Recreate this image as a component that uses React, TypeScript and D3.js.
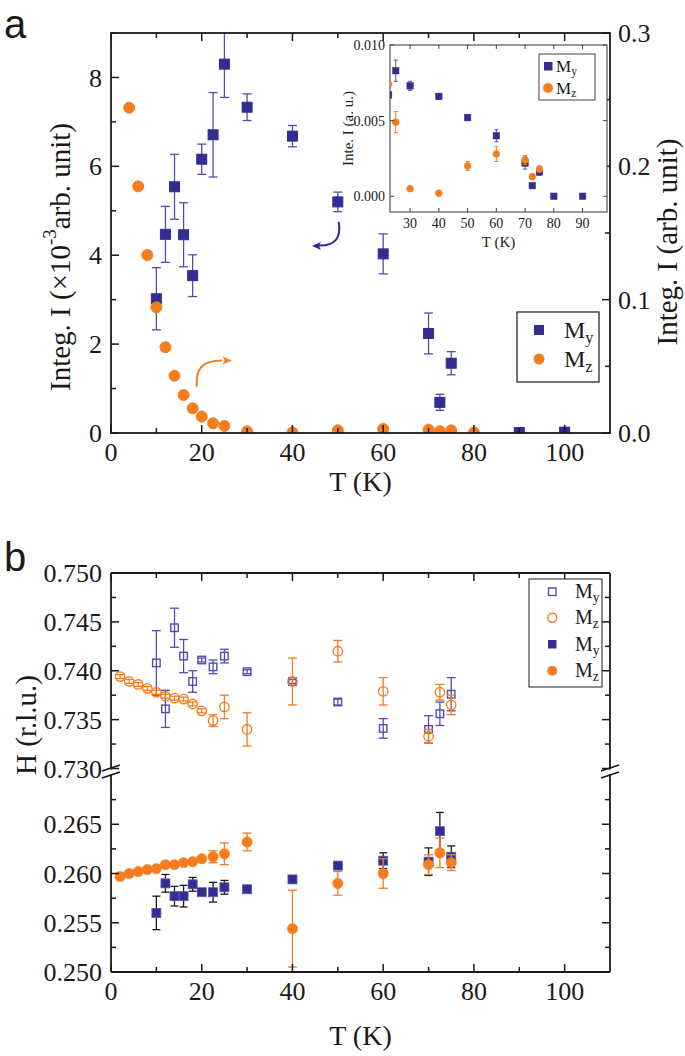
import React from "react";
import * as d3 from "d3";

// ---- panel a, main plot ----
const aMyT = [10, 12, 14, 16, 18, 20, 22.5, 25, 30, 40, 50, 60, 70, 72.5, 75, 90, 100];
const aMyI = [3.02, 4.47, 5.54, 4.46, 3.54, 6.16, 6.71, 8.3, 7.33, 6.68, 5.2, 4.03, 2.24, 0.69, 1.57, 0.01, 0.02];
const aMyErr = [0.7, 0.63, 0.73, 0.72, 0.47, 0.34, 0.95, 0.75, 0.3, 0.24, 0.22, 0.45, 0.46, 0.18, 0.26, 0, 0];

const aMzT = [4, 6, 8, 10, 12, 14, 16, 18, 20, 22.5, 25, 30, 40, 50, 60, 70, 72.5, 75, 80];
const aMzI = [0.244, 0.185, 0.1335, 0.0943, 0.0643, 0.043, 0.0285, 0.0185, 0.0123, 0.0073, 0.0053, 0.0012, 0.0004, 0.002, 0.003, 0.0025, 0.0013, 0.002, 0.0003];

// ---- panel a, inset ----
const inMyT = [22.5, 25, 30, 40, 50, 60, 70, 72.5, 75, 80, 90];
const inMyI = [0.0067, 0.0083, 0.0073, 0.0066, 0.0052, 0.004, 0.0022, 0.0007, 0.0016, 0, 0];
const inMyErr = [0.0009, 0.0007, 0.0003, 0.0002, 0.0002, 0.0004, 0.0004, 0.0001, 0.0002, 0, 0];
const inMzT = [22.5, 25, 30, 40, 50, 60, 70, 72.5, 75];
const inMzI = [0.0074, 0.0049, 0.0005, 0.0002, 0.002, 0.0028, 0.0024, 0.0013, 0.0018];
const inMzErr = [0.0002, 0.0007, 0.0001, 0.0001, 0.0003, 0.0005, 0.0003, 0.0002, 0.0002];

// ---- panel b ----
const bT = [10, 12, 14, 16, 18, 20, 22.5, 25, 30, 40, 50, 60, 70, 72.5, 75];
const bMzT = [2, 4, 6, 8, 10, 12, 14, 16, 18, 20, 22.5, 25, 30, 40, 50, 60, 70, 72.5, 75];

// open symbols (upper branch, ~0.74)
const hMyOpen = [0.7408, 0.7361, 0.7444, 0.7415, 0.7389, 0.7411, 0.7404, 0.7415, 0.7399, 0.7389, 0.7368, 0.7341, 0.734, 0.7356, 0.7376];
const hMyOpenErr = [0.0033, 0.0019, 0.002, 0.0017, 0.0011, 0.0002, 0.0007, 0.0007, 0.0002, 0.0002, 0.0003, 0.001, 0.0014, 0.0012, 0.0017];
const hMzOpen = [0.7394, 0.7389, 0.7386, 0.7382, 0.7378, 0.7374, 0.7372, 0.7371, 0.7366, 0.7359, 0.7349, 0.7363, 0.734, 0.7389, 0.742, 0.7379, 0.7333, 0.7378, 0.7365];
const hMzOpenErr = [0.0002, 0.0002, 0.0002, 0.0002, 0.0002, 0.0002, 0.0002, 0.0002, 0.0002, 0.0002, 0.0006, 0.0012, 0.0017, 0.0024, 0.0011, 0.0014, 0.0007, 0.0008, 0.001];

// filled symbols (lower branch, ~0.26)
const hMyFill = [0.256, 0.259, 0.2577, 0.2577, 0.2589, 0.2581, 0.2581, 0.2586, 0.2584, 0.2594, 0.2608, 0.2613, 0.2612, 0.2643, 0.2617];
const hMyFillErr = [0.0017, 0.0009, 0.001, 0.0011, 0.0007, 0.0003, 0.001, 0.0007, 0.0002, 0.0002, 0.0003, 0.0008, 0.0014, 0.0019, 0.0011];
const hMzFill = [0.2597, 0.26, 0.2602, 0.2604, 0.2605, 0.2609, 0.2609, 0.2611, 0.2612, 0.2615, 0.2617, 0.262, 0.2632, 0.2544, 0.259, 0.26, 0.2609, 0.2621, 0.2611];
const hMzFillErr = [0.0001, 0.0001, 0.0001, 0.0001, 0.0001, 0.0001, 0.0001, 0.0001, 0.0001, 0.0001, 0.0006, 0.0011, 0.0009, 0.0039, 0.0012, 0.0015, 0.001, 0.0015, 0.0008];

const xTicks = [0, 20, 40, 60, 80, 100];
const xMinor = [10, 30, 50, 70, 90];
const yTicksUpper = [0.73, 0.735, 0.74, 0.745, 0.75];
const yTicksLower = [0.25, 0.255, 0.26, 0.265];

const BLUE = "#332d93";
const BLUE_ERR = "#524dae";
const ORANGE = "#f47d1f";
const INK = "#1a1a1a";
const SERIF = "'Liberation Serif', 'Times New Roman', serif";
const SANS = "'Liberation Sans', Arial, sans-serif";

const L = 111, R = 610;
const x = d3.scaleLinear().domain([0, 110]).range([L, R]);

// panel a scales
const aTop = 33, aBot = 433;
const yA = d3.scaleLinear().domain([0, 9]).range([aBot, aTop]);
const yA2 = d3.scaleLinear().domain([0, 0.3]).range([aBot, aTop]);

// inset scales
const inL = 390, inR = 607, inTop = 45, inBot = 212;
const xIn = d3.scaleLinear().domain([23, 98.5]).range([inL, inR]);
const yIn = d3.scaleLinear().domain([-0.00104, 0.01]).range([inBot, inTop]);

// panel b scales (broken axis)
const bTop = 573, bBot = 972;
const yUp = d3.scaleLinear().domain([0.73, 0.75]).range([768.5, bTop]);
const yLo = d3.scaleLinear().domain([0.25, 0.27]).range([bBot, 775]);

const Sub = ({ s }: { s: string }) => (
  <>
    M
    <tspan fontSize="0.68em" dy="0.3em">{s}</tspan>
  </>
);

function ErrBars({ xs, ys, es, sx, sy, color, cap = 8, width = 1.3 }: any) {
  return (
    <g stroke={color} strokeWidth={width} fill="none">
      {xs.map((t: number, i: number) => {
        if (!es[i]) return null;
        const cx = sx(t);
        const y1 = sy(ys[i] - es[i]);
        const y2 = sy(ys[i] + es[i]);
        return (
          <g key={i}>
            <line x1={cx} x2={cx} y1={y1} y2={y2} />
            <line x1={cx - cap / 2} x2={cx + cap / 2} y1={y1} y2={y1} />
            <line x1={cx - cap / 2} x2={cx + cap / 2} y1={y2} y2={y2} />
          </g>
        );
      })}
    </g>
  );
}

function Squares({ xs, ys, sx, sy, size, fill, stroke, sw = 1 }: any) {
  return (
    <g>
      {xs.map((t: number, i: number) => (
        <rect key={i} x={sx(t) - size / 2} y={sy(ys[i]) - size / 2} width={size} height={size}
          fill={fill} stroke={stroke} strokeWidth={sw} />
      ))}
    </g>
  );
}

function Circles({ xs, ys, sx, sy, r, fill, stroke, sw = 1 }: any) {
  return (
    <g>
      {xs.map((t: number, i: number) => (
        <circle key={i} cx={sx(t)} cy={sy(ys[i])} r={r} fill={fill} stroke={stroke} strokeWidth={sw} />
      ))}
    </g>
  );
}

function XAxisTicks({ top, bot, labels }: { top: number; bot: number; labels: boolean }) {
  return (
    <g stroke={INK} strokeWidth={1.5}>
      {xTicks.map((t) => (
        <g key={"M" + t}>
          <line x1={x(t)} x2={x(t)} y1={bot} y2={bot - 8} />
          <line x1={x(t)} x2={x(t)} y1={top} y2={top + 8} />
        </g>
      ))}
      {xMinor.map((t) => (
        <g key={"m" + t}>
          <line x1={x(t)} x2={x(t)} y1={bot} y2={bot - 5} />
          <line x1={x(t)} x2={x(t)} y1={top} y2={top + 5} />
        </g>
      ))}
      {labels &&
        xTicks.map((t) => (
          <text key={"l" + t} x={x(t)} y={bot + 28} textAnchor="middle" stroke="none" fill={INK}
            fontFamily={SERIF} fontSize={26}>{t}</text>
        ))}
    </g>
  );
}

function YTicks({ sy, major, minor, side, fmt, labels = true }: any) {
  const x0 = side === "left" ? L : R;
  const dir = side === "left" ? 1 : -1;
  return (
    <g stroke={INK} strokeWidth={1.5}>
      {major.map((v: number) => (
        <line key={"M" + v} x1={x0} x2={x0 + dir * 8} y1={sy(v)} y2={sy(v)} />
      ))}
      {minor.map((v: number) => (
        <line key={"m" + v} x1={x0} x2={x0 + dir * 5} y1={sy(v)} y2={sy(v)} />
      ))}
      {labels &&
        major.map((v: number) => (
          <text key={"l" + v} x={side === "left" ? L - 9 : R + 8} y={sy(v)} dy="0.35em"
            textAnchor={side === "left" ? "end" : "start"} stroke="none" fill={INK}
            fontFamily={SERIF} fontSize={26}>{fmt(v)}</text>
        ))}
    </g>
  );
}

function PanelA() {
  const arrowBlue = d3.path();
  arrowBlue.moveTo(x(50.2), yA(4.75));
  arrowBlue.bezierCurveTo(x(50.8), yA(4.4), x(49.5), yA(4.2), x(45.5), yA(4.22));
  const arrowOrange = d3.path();
  arrowOrange.moveTo(x(18.9), yA(1.04));
  arrowOrange.bezierCurveTo(x(18.7), yA(1.45), x(20), yA(1.63), x(24.5), yA(1.63));

  return (
    <g>
      <defs>
        <clipPath id="clipA">
          <rect x={L} y={aTop} width={R - L} height={aBot - aTop} />
        </clipPath>
        <clipPath id="clipIn">
          <rect x={inL} y={inTop} width={inR - inL} height={inBot - inTop} />
        </clipPath>
      </defs>

      <g clipPath="url(#clipA)">
        <ErrBars xs={aMyT} ys={aMyI} es={aMyErr} sx={x} sy={yA} color={BLUE_ERR} cap={9} />
        <Squares xs={aMyT} ys={aMyI} sx={x} sy={yA} size={10} fill={BLUE} stroke={BLUE} />
        <Circles xs={aMzT} ys={aMzI} sx={x} sy={yA2} r={5.5} fill={ORANGE} stroke={ORANGE} />
      </g>

      {/* annotation arrows */}
      <path d={arrowBlue.toString()} fill="none" stroke={BLUE} strokeWidth={2} />
      <path d={`M${x(44.3)},${yA(4.21)} l9,-4 l-2,4 l2,4 z`} fill={BLUE} />
      <path d={arrowOrange.toString()} fill="none" stroke={ORANGE} strokeWidth={2} />
      <path d={`M${x(26.6)},${yA(1.63)} l-9,-4 l2,4 l-2,4 z`} fill={ORANGE} />

      {/* frame and ticks */}
      <rect x={L} y={aTop} width={R - L} height={aBot - aTop} fill="none" stroke={INK} strokeWidth={1.8} />
      <XAxisTicks top={aTop} bot={aBot} labels={true} />
      <YTicks sy={yA} major={[0, 2, 4, 6, 8]} minor={[1, 3, 5, 7, 9]} side="left" fmt={(v: number) => String(v)} />
      <YTicks sy={yA2} major={[0, 0.1, 0.2, 0.3]} minor={[0.05, 0.15, 0.25]} side="right" fmt={d3.format(".1f")} />

      {/* legend */}
      <rect x={517} y={312} width={82} height={70} fill="white" stroke={INK} strokeWidth={1.2} />
      <rect x={534} y={325} width={10} height={10} fill={BLUE} />
      <circle cx={539} cy={359} r={5.5} fill={ORANGE} />
      <text x={564} y={338} fontFamily={SERIF} fontSize={24} fill={INK}><Sub s="y" /></text>
      <text x={564} y={367} fontFamily={SERIF} fontSize={24} fill={INK}><Sub s="z" /></text>

      {/* inset */}
      <rect x={inL} y={inTop} width={inR - inL} height={inBot - inTop} fill="white" stroke="#555" strokeWidth={1.2} />
      <g clipPath="url(#clipIn)">
        <ErrBars xs={inMyT} ys={inMyI} es={inMyErr} sx={xIn} sy={yIn} color={BLUE_ERR} cap={4} width={1} />
        <Squares xs={inMyT} ys={inMyI} sx={xIn} sy={yIn} size={6.5} fill={BLUE} stroke={BLUE} sw={0.5} />
        <ErrBars xs={inMzT} ys={inMzI} es={inMzErr} sx={xIn} sy={yIn} color={ORANGE} cap={4} width={1} />
        <Circles xs={inMzT} ys={inMzI} sx={xIn} sy={yIn} r={3.4} fill={ORANGE} stroke={ORANGE} sw={0.5} />
      </g>
      <g stroke="#444" strokeWidth={1}>
        {[30, 40, 50, 60, 70, 80, 90].map((t) => (
          <g key={t}>
            <line x1={xIn(t)} x2={xIn(t)} y1={inBot} y2={inBot - 4} />
            <line x1={xIn(t)} x2={xIn(t)} y1={inTop} y2={inTop + 4} />
          </g>
        ))}
        {[0, 0.005, 0.01].map((v) => (
          <g key={v}>
            <line x1={inL} x2={inL + 4} y1={yIn(v)} y2={yIn(v)} />
            <line x1={inR} x2={inR - 4} y1={yIn(v)} y2={yIn(v)} />
          </g>
        ))}
      </g>
      {[30, 40, 50, 60, 70, 80, 90].map((t) => (
        <text key={t} x={xIn(t)} y={inBot + 16} textAnchor="middle" fontFamily={SERIF} fontSize={14} fill={INK}>{t}</text>
      ))}
      {[0, 0.005, 0.01].map((v) => (
        <text key={v} x={inL - 5} y={yIn(v)} dy="0.35em" textAnchor="end" fontFamily={SERIF} fontSize={14} fill={INK}>
          {d3.format(".3f")(v)}
        </text>
      ))}
      <text x={(inL + inR) / 2} y={247} textAnchor="middle" fontFamily={SERIF} fontSize={15} fill={INK}>T (K)</text>
      <text transform={`translate(353,${(inTop + inBot) / 2}) rotate(-90)`} textAnchor="middle"
        fontFamily={SERIF} fontSize={15} fill={INK}>Inte. I (a. u.)</text>
      <rect x={539} y={54} width={56} height={46} fill="white" stroke="#444" strokeWidth={1} />
      <rect x={544} y={62} width={8.5} height={8.5} fill={BLUE} />
      <circle cx={548} cy={88} r={5} fill={ORANGE} />
      <text x={556} y={72} fontFamily={SERIF} fontSize={17} fill={INK}><Sub s="y" /></text>
      <text x={556} y={94} fontFamily={SERIF} fontSize={17} fill={INK}><Sub s="z" /></text>

      {/* axis titles */}
      <text x={(L + R) / 2} y={491} textAnchor="middle" fontFamily={SERIF} fontSize={28} fill={INK}>T (K)</text>
      <text transform={`translate(70,257) rotate(-90)`} textAnchor="middle" fontFamily={SERIF} fontSize={29} fill={INK}>
        Integ. I (×10<tspan fontSize="0.65em" dy="-0.75em">-3</tspan><tspan dy="0.48em">arb. unit)</tspan>
      </text>
      <text transform={`translate(677,242) rotate(-90)`} textAnchor="middle" fontFamily={SERIF} fontSize={29} fill={INK}>
        Integ. I (arb. unit)
      </text>
      <text x={4} y={38} fontFamily={SANS} fontSize={40} fill={INK}>a</text>
    </g>
  );
}

function PanelB() {
  const upMinor = [0.7325, 0.7375, 0.7425, 0.7475];
  const loMinor = [0.2525, 0.2575, 0.2625, 0.2675];
  const fmt = d3.format(".3f");
  const brk = (x0: number) => (
    <g key={x0}>
      <rect x={x0 - 3} y={769.5} width={6} height={4.5} fill="white" />
      <line x1={x0 - 9} y1={771} x2={x0 + 9} y2={765} stroke={INK} strokeWidth={1.8} />
      <line x1={x0 - 9} y1={778} x2={x0 + 9} y2={772} stroke={INK} strokeWidth={1.8} />
    </g>
  );
  return (
    <g>
      <ErrBars xs={bT} ys={hMyOpen} es={hMyOpenErr} sx={x} sy={yUp} color={BLUE_ERR} cap={9} />
      <Squares xs={bT} ys={hMyOpen} sx={x} sy={yUp} size={7.5} fill="none" stroke={BLUE_ERR} sw={1.4} />
      <ErrBars xs={bMzT} ys={hMzOpen} es={hMzOpenErr} sx={x} sy={yUp} color={ORANGE} cap={9} />
      <Circles xs={bMzT} ys={hMzOpen} sx={x} sy={yUp} r={4.7} fill="none" stroke={ORANGE} sw={1.4} />

      <ErrBars xs={bT} ys={hMyFill} es={hMyFillErr} sx={x} sy={yLo} color={INK} cap={8} />
      <Squares xs={bT} ys={hMyFill} sx={x} sy={yLo} size={9} fill={BLUE} stroke="#5b57b5" sw={0.8} />
      <ErrBars xs={bMzT} ys={hMzFill} es={hMzFillErr} sx={x} sy={yLo} color={ORANGE} cap={9} />
      <Circles xs={bMzT} ys={hMzFill} sx={x} sy={yLo} r={5.2} fill={ORANGE} stroke={ORANGE} sw={0.5} />

      {/* frame */}
      <g stroke={INK} strokeWidth={1.8}>
        <line x1={L} x2={R} y1={bTop} y2={bTop} />
        <line x1={L} x2={R} y1={bBot} y2={bBot} />
        <line x1={L} x2={L} y1={bTop} y2={bBot} />
        <line x1={R} x2={R} y1={bTop} y2={bBot} />
      </g>
      {brk(L)}
      {brk(R)}
      <XAxisTicks top={bTop} bot={bBot} labels={true} />
      <YTicks sy={yUp} major={yTicksUpper} minor={upMinor} side="left" fmt={fmt} />
      <YTicks sy={yLo} major={yTicksLower} minor={loMinor} side="left" fmt={fmt} />
      <YTicks sy={yUp} major={yTicksUpper} minor={upMinor} side="right" fmt={fmt} labels={false} />
      <YTicks sy={yLo} major={yTicksLower} minor={loMinor} side="right" fmt={fmt} labels={false} />

      {/* legend */}
      <rect x={529} y={579} width={73} height={108} fill="white" stroke="#444" strokeWidth={1.2} />
      <rect x={548.5} y={588} width={7.5} height={7.5} fill="none" stroke={BLUE_ERR} strokeWidth={1.4} />
      <circle cx={552.3} cy={617.7} r={4.5} fill="none" stroke={ORANGE} strokeWidth={1.4} />
      <rect x={548} y={640} width={8.5} height={8.5} fill={BLUE} />
      <circle cx={552.3} cy={670.7} r={5} fill={ORANGE} />
      {["y", "z", "y", "z"].map((s, i) => (
        <text key={i} x={575} y={598 + i * 26.3} fontFamily={SERIF} fontSize={20} fill={INK}><Sub s={s} /></text>
      ))}

      <text x={(L + R) / 2} y={1045} textAnchor="middle" fontFamily={SERIF} fontSize={28} fill={INK}>T (K)</text>
      <text transform={`translate(36,725) rotate(-90)`} textAnchor="middle" fontFamily={SERIF} fontSize={29} fill={INK}>
        H (r.l.u.)
      </text>
      <text x={4} y={571} fontFamily={SANS} fontSize={40} fill={INK}>b</text>
    </g>
  );
}

export default function App() {
  return (
    <svg width={685} height={1056} viewBox="0 0 685 1056"
      style={{ position: "absolute", left: 0, top: 0, display: "block", background: "white" }}>
      <PanelA />
      <PanelB />
    </svg>
  );
}
